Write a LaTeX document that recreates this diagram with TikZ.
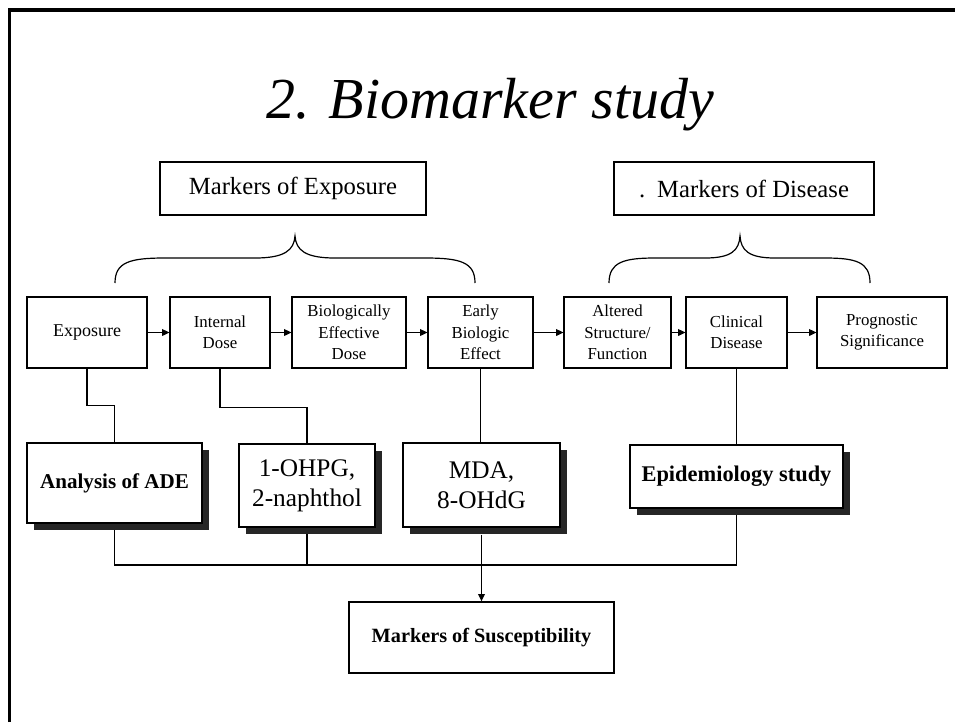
\documentclass[tikz,border=0pt]{standalone}
\usepackage{fontspec}
\setmainfont{Liberation Serif}
\usetikzlibrary{arrows.meta,shadows,backgrounds}
\begin{document}
\begin{tikzpicture}[x=0.75pt,y=-0.75pt,
  topbox/.style={draw,line width=0.8pt,inner sep=0pt,align=center,minimum height=71*0.75pt,font=\fontsize{12.6}{16}\selectfont},
  markbox/.style={draw,line width=0.8pt,inner sep=0pt,minimum height=53*0.75pt,font=\fontsize{18.5}{22}\selectfont},
  lowbox/.style={draw,line width=1.1pt,fill=white,inner sep=0pt,align=center,
    drop shadow={shadow xshift=5.25pt,shadow yshift=-5.25pt,fill=black!85,opacity=1}},
  conn/.style={line width=1pt},
  arr/.style={line width=1pt,-{Triangle[length=5.5pt,width=5pt]}},
  bracel/.style={line width=0.9pt}]
\useasboundingbox (0,0) rectangle (955,722);
\begin{scope}[on background layer]
\fill[white] (0,0) rectangle (955,722);
\end{scope}
% frame
\draw[line width=2.4pt] (9.5,722) -- (9.5,10) -- (955,10);
% title
\node[anchor=base,font=\fontsize{43.5}{50}\selectfont\itshape] (title) at (490,118) {2. Biomarker study};
% marker boxes
\node[markbox,minimum width=266*0.75pt] (mexp) at (293,188.5) {Markers of Exposure};
\node[markbox,minimum width=260*0.75pt] (mdis) at (744,188.5) {.\hspace{9pt}Markers of Disease};
% braces
\draw[bracel] (115,283) .. controls (115,262) and (130,258) .. (165,258) -- (255,258)
  .. controls (285,258) and (294,250) .. (295,236)
  .. controls (296,250) and (305,258) .. (335,258) -- (425,258)
  .. controls (460,258) and (475,262) .. (475,283);
\draw[bracel] (609,283) .. controls (609,262) and (624,258) .. (655,258) -- (705,258)
  .. controls (732,258) and (739,250) .. (740,236)
  .. controls (741,250) and (748,258) .. (775,258) -- (825,258)
  .. controls (856,258) and (870,262) .. (870,283);
% top row
\node[topbox,minimum width=120*0.75pt,font=\fontsize{13.5}{16}\selectfont] (expo) at (87,332.5) {Exposure};
\node[topbox,minimum width=100*0.75pt] (idose) at (220,332.5) {Internal\\Dose};
\node[topbox,minimum width=114*0.75pt] (bed) at (349,332.5) {Biologically\\Effective\\Dose};
\node[topbox,minimum width=105*0.75pt] (ebe) at (480.5,332.5) {Early\\Biologic\\Effect};
\node[topbox,minimum width=107*0.75pt] (asf) at (617.5,332.5) {Altered\\Structure/\\Function};
\node[topbox,minimum width=101*0.75pt] (cdis) at (736.5,332.5) {Clinical\\Disease};
\node[topbox,minimum width=130*0.75pt] (prog) at (882,332.5) {Prognostic\\Significance};
\draw[arr] (expo) -- (idose);
\draw[arr] (idose) -- (bed);
\draw[arr] (bed) -- (ebe);
\draw[arr] (ebe) -- (asf);
\draw[arr] (asf) -- (cdis);
\draw[arr] (cdis) -- (prog);
% lower boxes
\node[lowbox,minimum width=175*0.75pt,minimum height=80*0.75pt,font=\fontsize{15.8}{19}\selectfont\bfseries] (ade) at (114.5,483) {Analysis of ADE};
\node[lowbox,minimum width=136*0.75pt,minimum height=83*0.75pt,font=\fontsize{19}{22.5}\selectfont] (ohpg) at (307,485.5) {1-OHPG,\\2-naphthol};
\node[lowbox,minimum width=157*0.75pt,minimum height=84*0.75pt,font=\fontsize{19}{22.5}\selectfont] (mda) at (481.5,485) {MDA,\\8-OHdG};
\node[lowbox,minimum width=213*0.75pt,minimum height=63*0.75pt,font=\fontsize{16.8}{20}\selectfont\bfseries] (epi) at (736.5,476.5) {Epidemiology study};
\node[draw,line width=1pt,inner sep=0pt,minimum width=265*0.75pt,minimum height=71*0.75pt,font=\fontsize{15.2}{18}\selectfont\bfseries] (sus) at (481.5,637.5) {Markers of Susceptibility};
\coordinate (hl) at (115,565);
% connectors
\begin{scope}[on background layer]
\draw[conn] (expo.south) -- ++(0,37) -| (ade.north);
\draw[conn] (idose.south) -- ++(0,39) -| (ohpg.north);
\draw[conn] (ebe.south) -- (ebe.south |- mda.north);
\draw[conn] (cdis.south) -- (epi.north);
\draw[conn] (ade.south) -- (ade.south |- hl) -- (epi.south |- hl) -- (epi.south);
\draw[conn] (ohpg.south) -- (ohpg.south |- hl);
\end{scope}
\draw[arr] (mda.south) ++(0,7) -- (sus.north);
\end{tikzpicture}
\end{document}
